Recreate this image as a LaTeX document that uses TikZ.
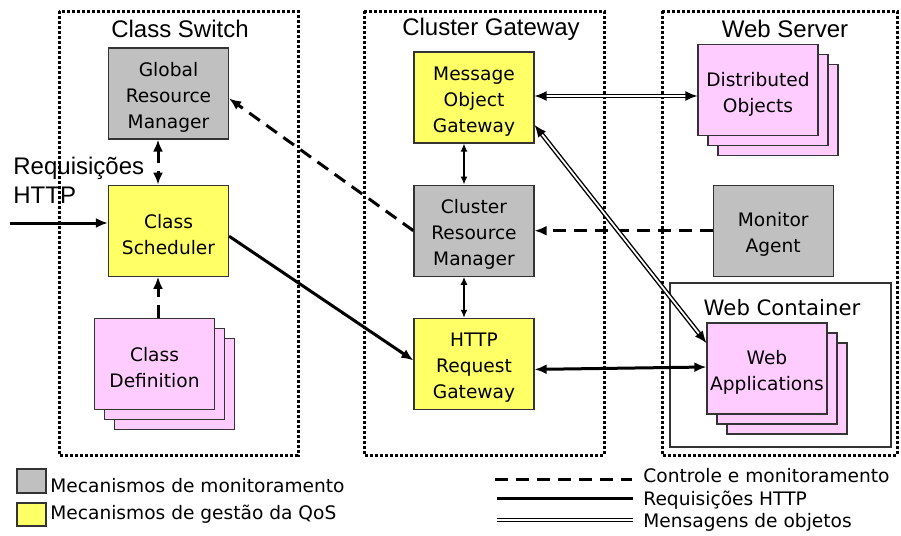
\documentclass[tikz,border=0pt]{standalone}
\usepackage{fontspec}
\setmainfont{DejaVu Sans}
\newfontfamily\arialfont{Liberation Sans}
\usetikzlibrary{arrows.meta, positioning, shadows}

\definecolor{mongray}{HTML}{C0C0C0}
\definecolor{qosyellow}{HTML}{FFFF66}
\definecolor{objpink}{HTML}{FFCCFF}

\begin{document}
\begin{tikzpicture}[
  x=0.5pt, y=-0.5pt,
  box/.style={
    rectangle,
    draw=black!80,
    line width=0.6pt,
    align=center,
    text width=58pt,
    minimum width=60pt,
    minimum height=45.5pt,
    inner sep=1pt,
    font=\fontsize{9.3}{13}\selectfont,
    execute at begin node={\rule{0pt}{11pt}}
  },
  monitor/.style={box, fill=mongray},
  qos/.style={box, fill=qosyellow},
  objstack/.style={
    box,
    fill=objpink,
    double copy shadow={shadow xshift=5pt, shadow yshift=-5pt}
  },
  keysquare/.style={draw=black!80, line width=0.6pt, minimum width=14.5pt,
    minimum height=12pt, inner sep=0pt},
  group/.style={draw, line width=1.5pt, dash pattern=on 1.5pt off 1pt},
  grouptitle/.style={font=\arialfont\fontsize{12}{14}\selectfont},
  legendtxt/.style={inner sep=0pt, font=\fontsize{9.3}{13}\selectfont},
  ctrl/.style={line width=1.5pt, dash pattern=on 6.5pt off 4pt},
  http/.style={line width=1.5pt},
  objmsg/.style={draw, line width=0.7pt, double, double distance=0.9pt},
  thinarr/.style={line width=0.75pt, {Latex[length=4pt,width=3.5pt]}-{Latex[length=4pt,width=3.5pt]}},
  >={Latex[length=6pt,width=5pt]}
]
\useasboundingbox (0,0) rectangle (901,536);

% groups
\draw[group] (59,11) rectangle (298,455);
\draw[group] (364,11) rectangle (604,455);
\draw[group] (662,11) rectangle (897,455);
\draw[draw=black!80, line width=0.75pt] (670,283) rectangle (891,447);

\node[grouptitle] (switchtitle) at (180,29) {Class Switch};
\node[grouptitle] (gatewaytitle) at (491,29) {Cluster Gateway};
\node[grouptitle] (servertitle) at (785,29) {Web Server};
\node[inner sep=0pt, font=\fontsize{10.6}{13}\selectfont] (containertitle) at (782,308) {Web Container};

% class switch
\node[monitor] (grm) at (168.5,93.5) {Global\\Resource\\Manager};
\node[qos, below=22.5pt of grm] (cs) {Class\\Scheduler};
\node[objstack, below=20.5pt of cs, xshift=-7pt] (cd) {Class\\Definition};

% cluster gateway
\node[qos] (mog) at (474,97.5) {Message\\Object\\Gateway};
\node[monitor, below=20.5pt of mog] (crm) {Cluster\\Resource\\Manager};
\node[qos, below=20.5pt of crm] (hrg) {HTTP\\Request\\Gateway};

% web server
\node[objstack] (dobj) at (758,90) {Distributed\\Objects};
\node[monitor, right=89pt of crm] (agent) {Monitor\\Agent};
\node[objstack] (wapp) at (767,368.5) {Web\\Applications};

% incoming requests
\node[anchor=north west, inner sep=0pt, align=left,
  font=\arialfont\fontsize{12}{14.5}\selectfont] (reqlabel) at (13,157) {Requisições\\HTTP};
\coordinate (reqin) at (10,223);

% connectors
\draw[http, ->] (reqin) -- (reqin -| cs.west);
\draw[ctrl, <->] ([xshift=-5.25pt]grm.south) -- ([xshift=-5.25pt]cs.north);
\draw[ctrl, ->] ([xshift=1.75pt]cd.north) -- ([xshift=-5.25pt]cs.south);
\draw[http, ->] ([yshift=-2.75pt]cs.east) -- ([yshift=1.75pt]hrg.west);
\draw[ctrl, ->] (crm.west) -- ([yshift=-2.5pt]grm.east);
\draw[ctrl, ->] (agent.west) -- (crm.east);
\draw[thinarr] ([xshift=-5pt]mog.south) -- ([xshift=-5pt]crm.north);
\draw[thinarr] ([xshift=-5pt]crm.south) -- ([xshift=-5pt]hrg.north);
\draw[objmsg, <->] ([yshift=0.75pt]mog.east) -- ([yshift=-3pt]dobj.west);
\draw[objmsg, <->] ([yshift=-13.75pt]mog.east) -- ([yshift=12.75pt]wapp.west);
\draw[http, <->] ([yshift=-2.75pt]hrg.east) -- ([yshift=0.75pt]wapp.west);

% legend
\node[keysquare, fill=mongray] (keymon) at (31.5,481) {};
\node[keysquare, fill=qosyellow, minimum height=11.5pt] (keyqos) at (31.5,514.5) {};
\node[legendtxt, anchor=base west] (keymontxt) at (50,492) {Mecanismos de monitoramento};
\node[legendtxt, anchor=base west] (keyqostxt) at (50,519) {Mecanismos de gestão da QoS};

\coordinate (keyctrl) at (495,479);
\coordinate (keyhttp) at (497,498);
\coordinate (keyobj) at (497,520);
\draw[ctrl] (keyctrl) -- ++(137,0);
\draw[http] (keyhttp) -- ++(136,0);
\draw[objmsg] (keyobj) -- ++(136,0);
\node[legendtxt, anchor=base west] (keyctrltxt) at (643,482) {Controle e monitoramento};
\node[legendtxt, anchor=base west] (keyhttptxt) at (643,505) {Requisições HTTP};
\node[legendtxt, anchor=base west] (keyobjtxt) at (643,527) {Mensagens de objetos};

\end{tikzpicture}
\end{document}
